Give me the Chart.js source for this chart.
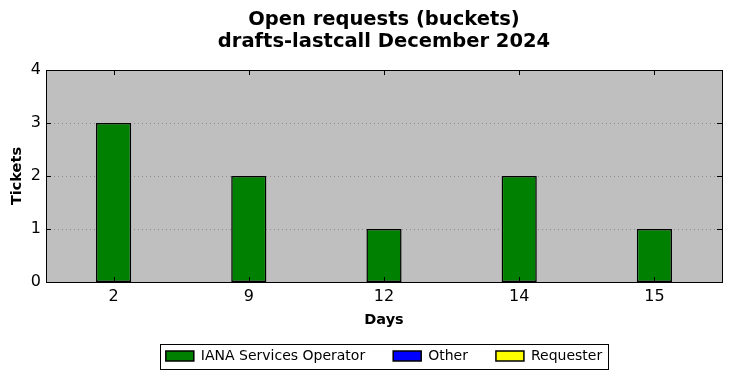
<!DOCTYPE html>
<html>
<head>
<meta charset="utf-8">
<script src="https://cdn.jsdelivr.net/npm/chart.js@4"></script>
<style>
  html, body { margin: 0; padding: 0; background: #fff; }
</style>
</head>
<body>
<canvas id="chart" width="732" height="378"></canvas>
<script>
// data
const days = ['2', '9', '12', '14', '15'];
const ianaOperator = [3, 2, 1, 2, 1];
const other = [0, 0, 0, 0, 0];
const requester = [0, 0, 0, 0, 0];
const yTicks = [0, 1, 2, 3, 4];

const FONT = "'DejaVu Sans', sans-serif";

// matplotlib "classic" look: grey axes, dotted grid, ticks pointing inward, black frame
const mplFrame = {
    id: 'mplFrame',
    beforeDraw(chart) {
        const {ctx, chartArea: a} = chart;
        ctx.save();
        ctx.fillStyle = '#bfbfbf';
        ctx.fillRect(a.left, a.top, a.right - a.left, a.bottom - a.top);
        ctx.restore();
    },
    beforeDatasetsDraw(chart) {
        const {ctx, chartArea: a, scales} = chart;
        ctx.save();
        ctx.strokeStyle = '#8c8c8c';
        ctx.lineWidth = 1;
        ctx.setLineDash([1, 3]);
        yTicks.forEach(v => {
            if (v === yTicks[0] || v === yTicks[yTicks.length - 1]) return;
            const y = Math.round(scales.y.getPixelForValue(v)) + 0.5;
            ctx.beginPath();
            ctx.moveTo(a.left, y);
            ctx.lineTo(a.right, y);
            ctx.stroke();
        });
        ctx.restore();
    },
    afterDatasetsDraw(chart) {
        const {ctx, chartArea: a, scales} = chart;
        const len = 5;
        ctx.save();
        ctx.strokeStyle = '#000';
        ctx.lineWidth = 1;
        ctx.beginPath();
        days.forEach((d, i) => {
            const x = Math.round(scales.x.getPixelForValue(i)) + 0.5;
            ctx.moveTo(x, a.top); ctx.lineTo(x, a.top + len);
            ctx.moveTo(x, a.bottom); ctx.lineTo(x, a.bottom - len);
        });
        yTicks.forEach(v => {
            const y = Math.round(scales.y.getPixelForValue(v)) + 0.5;
            ctx.moveTo(a.left, y); ctx.lineTo(a.left + len, y);
            ctx.moveTo(a.right, y); ctx.lineTo(a.right - len, y);
        });
        ctx.stroke();
        ctx.strokeRect(Math.round(a.left) + 0.5, Math.round(a.top) + 0.5,
            Math.round(a.right - a.left), Math.round(a.bottom - a.top));

        // frame round the legend
        const lg = chart.legend;
        if (lg && lg.legendHitBoxes && lg.legendHitBoxes.length) {
            const hb = lg.legendHitBoxes;
            const l = Math.min(...hb.map(h => h.left)) - 6;
            const r = Math.max(...hb.map(h => h.left + h.width)) + 6;
            const cy = hb[0].top + hb[0].height / 2;
            ctx.strokeRect(Math.round(l) + 0.5, Math.round(cy - 12.5) + 0.5, Math.round(r - l), 25);
        }
        ctx.restore();
    }
};

new Chart(document.getElementById('chart'), {
    type: 'bar',
    data: {
        labels: days,
        datasets: [
            {label: 'IANA Services Operator', data: ianaOperator, backgroundColor: '#008000'},
            {label: 'Other', data: other, backgroundColor: '#0000ff'},
            {label: 'Requester', data: requester, backgroundColor: '#ffff00'}
        ].map(ds => Object.assign(ds, {
            borderColor: '#000',
            borderWidth: 1.5,
            borderSkipped: false,
            barPercentage: 0.26,
            categoryPercentage: 1
        }))
    },
    options: {
        responsive: false,
        animation: false,
        layout: {padding: {left: 0, right: 10, top: 0, bottom: 5}},
        plugins: {
            title: {
                display: true,
                fullSize: false,
                text: ['Open requests (buckets)', 'drafts-lastcall December 2024'],
                color: '#000',
                font: {family: FONT, size: 19.5, weight: 'bold', lineHeight: 1.13},
                padding: {top: 9, bottom: 17}
            },
            legend: {
                position: 'bottom',
                fullSize: false,
                labels: {
                    color: '#000',
                    font: {family: FONT, size: 14},
                    boxWidth: 28,
                    boxHeight: 10,
                    padding: 28
                }
            },
            tooltip: {enabled: false}
        },
        scales: {
            x: {
                stacked: true,
                offset: true,
                grid: {display: false, drawTicks: false},
                border: {display: false},
                ticks: {color: '#000', font: {family: FONT, size: 16}, padding: 5},
                title: {
                    display: true, text: 'Days', color: '#000',
                    font: {family: FONT, size: 14.5, weight: 'bold'},
                    padding: {top: 0, bottom: -8}
                },
                afterFit(s) { s.height = 39; }
            },
            y: {
                stacked: true,
                min: 0,
                max: 4,
                grid: {display: false, drawTicks: false},
                border: {display: false},
                ticks: {
                    stepSize: 1, color: '#000', padding: 5,
                    font: {family: FONT, size: 16}
                },
                title: {
                    display: true, text: 'Tickets', color: '#000',
                    font: {family: FONT, size: 14.5, weight: 'bold'},
                    padding: {top: 8.3, bottom: 0}
                },
                afterFit(s) { s.width = 46; }
            }
        }
    },
    plugins: [mplFrame]
});
</script>
</body>
</html>
